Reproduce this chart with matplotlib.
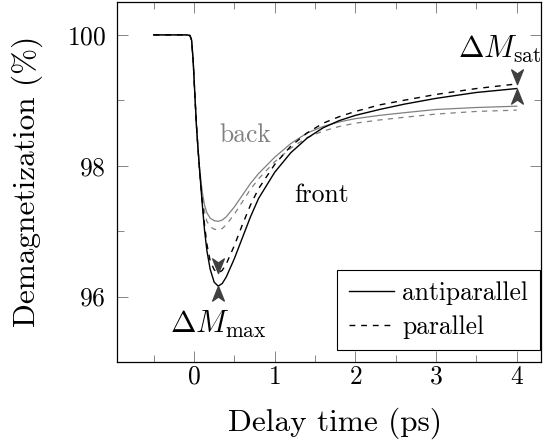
import numpy as np
import matplotlib
matplotlib.use("Agg")
import matplotlib.pyplot as plt
from matplotlib.path import Path
from matplotlib.ticker import FixedLocator

plt.rcParams['font.family'] = 'serif'
plt.rcParams['font.serif'] = ['cmr10']
plt.rcParams['mathtext.fontset'] = 'cm'
plt.rcParams['axes.formatter.use_mathtext'] = True

# atraso (ps) e curvas de desmagnetizacao (%)
delay = [-0.5, -0.1, -0.05, -0.03, -0.01, 0.01, 0.03, 0.05, 0.07, 0.1, 0.13, 0.16,
         0.2, 0.25, 0.3, 0.35, 0.4, 0.5, 0.6, 0.7, 0.8, 1.0, 1.2, 1.4, 1.6, 1.8,
         2.0, 2.3, 2.6, 3.0, 3.5, 4.0]

front_anti = [100, 100, 99.99, 99.92, 99.6, 99.1, 98.62, 98.25, 97.92, 97.45, 97.02, 96.7,
              96.42, 96.22, 96.16, 96.2, 96.3, 96.58, 96.9, 97.22, 97.5, 97.9, 98.2, 98.42,
              98.58, 98.69, 98.77, 98.86, 98.94, 99.03, 99.12, 99.18]
front_par = [100, 100, 99.99, 99.92, 99.6, 99.1, 98.62, 98.25, 97.92, 97.48, 97.1, 96.8,
             96.55, 96.41, 96.36, 96.4, 96.5, 96.78, 97.1, 97.4, 97.65, 98.02, 98.3, 98.5,
             98.65, 98.75, 98.83, 98.93, 99.0, 99.09, 99.18, 99.25]
back_anti = [100, 100, 99.99, 99.92, 99.6, 99.1, 98.62, 98.26, 97.95, 97.62, 97.4, 97.28,
             97.2, 97.16, 97.15, 97.17, 97.22, 97.37, 97.55, 97.73, 97.88, 98.13, 98.34, 98.5,
             98.6, 98.67, 98.72, 98.77, 98.81, 98.86, 98.89, 98.91]
back_par = [100, 100, 99.99, 99.92, 99.6, 99.1, 98.62, 98.26, 97.93, 97.56, 97.3, 97.15,
            97.07, 97.03, 97.02, 97.04, 97.1, 97.26, 97.45, 97.64, 97.8, 98.06, 98.27, 98.43,
            98.53, 98.6, 98.65, 98.7, 98.74, 98.79, 98.83, 98.85]

GRAY = '#808080'
ARROW = '#404040'
DASH = (4.2, 4.2)

fig = plt.figure(figsize=(5.45, 4.46), dpi=100)
ax = fig.add_axes([0.2147, 0.1883, 0.7774, 0.8083])

ax.plot(delay, back_anti, color=GRAY, lw=0.9)
ax.plot(delay, back_par, color=GRAY, lw=0.9, dashes=DASH)
ax.plot(delay, front_anti, color='black', lw=1.0, label='antiparallel')
ax.plot(delay, front_par, color='black', lw=1.0, dashes=DASH, label='parallel')

# pontas de seta (estilo stealth)
down = Path([(0, 0), (-0.4, 1), (0, 0.72), (0.4, 1), (0, 0)],
            [Path.MOVETO, Path.LINETO, Path.LINETO, Path.LINETO, Path.CLOSEPOLY])
up = Path([(0, 0), (-0.4, -1), (0, -0.72), (0.4, -1), (0, 0)],
          [Path.MOVETO, Path.LINETO, Path.LINETO, Path.LINETO, Path.CLOSEPOLY])

i_min = int(np.argmin(front_anti))
t_min = delay[i_min]
ax.plot([t_min], [min(front_par)], marker=down, ms=21, color=ARROW, ls='none')
ax.plot([t_min], [min(front_anti)], marker=up, ms=21, color=ARROW, ls='none')
ax.plot([delay[-1]], [front_par[-1]], marker=down, ms=21, color=ARROW, ls='none')
ax.plot([delay[-1]], [front_anti[-1]], marker=up, ms=21, color=ARROW, ls='none')

ax.text(0.632, 98.37, 'back', color=GRAY, fontsize=18.4, ha='center', va='baseline')
ax.text(1.576, 97.45, 'front', color='black', fontsize=18.4, ha='center', va='baseline')
ax.text(t_min, 95.45, r'$\Delta M_{\rm max}$', fontsize=22, ha='center', va='baseline')
ax.text(3.79, 99.65, r'$\Delta M_{\rm sat}$', fontsize=22, ha='center', va='baseline',
        clip_on=False)

ax.set_xlim(-0.954, 4.296)
ax.set_ylim(95.0, 100.51)
ax.set_xticks([0, 1, 2, 3, 4])
ax.set_yticks([96, 98, 100])
ax.xaxis.set_minor_locator(FixedLocator([-0.5, 0.5, 1.5, 2.5, 3.5]))
ax.yaxis.set_minor_locator(FixedLocator([97, 99]))
ax.tick_params(which='both', direction='in', top=True, right=True, color='0.45',
               width=0.6, labelsize=18.4)
ax.tick_params(which='major', length=7.8)
ax.tick_params(which='minor', length=5.2)
ax.tick_params(axis='x', pad=2)
ax.tick_params(axis='y', pad=8)
for s in ax.spines.values():
    s.set_linewidth(0.9)

ax.set_xlabel('Delay time (ps)', fontsize=22.5)
ax.xaxis.set_label_coords(0.514, -0.125)
ax.set_ylabel('Demagnetization (%)', fontsize=22.5)
ax.yaxis.set_label_coords(-0.175, 0.5)

leg = ax.legend(loc='lower right', bbox_to_anchor=(0.998, 0.033), borderaxespad=0,
                fontsize=18.4, handlelength=1.76, handletextpad=0.34, labelspacing=0.38,
                borderpad=0.45, fancybox=False, framealpha=1)
leg.get_frame().set_edgecolor('black')
leg.get_frame().set_linewidth(0.8)

fig.savefig('out.png', dpi=100)
